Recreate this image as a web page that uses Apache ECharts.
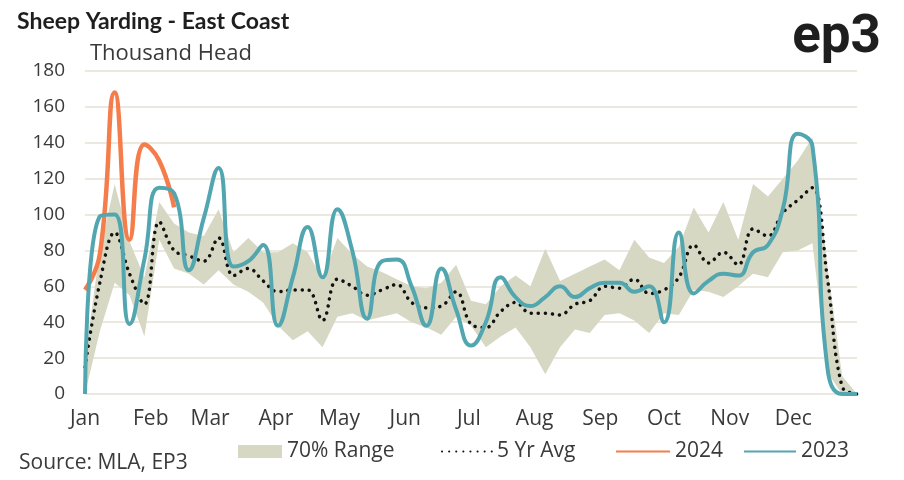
<!DOCTYPE html>
<html>
<head>
<meta charset="utf-8">
<script src="https://cdn.jsdelivr.net/npm/echarts@6/dist/echarts.min.js"></script>
<style>
html,body{margin:0;padding:0;background:#fff;}
#chart{width:904px;height:480px;}
</style>
</head>
<body>
<div id="chart"></div>
<script>
// ---- data ----
var weekNums = [1,2,3,4,5,6,7,8,9,10,11,12,13,14,15,16,17,18,19,20,21,22,23,24,25,26,27,28,29,30,31,32,33,34,35,36,37,38,39,40,41,42,43,44,45,46,47,48,49,50,51,52,53];
var monthLabels = ['Jan','Feb','Mar','Apr','May','Jun','Jul','Aug','Sep','Oct','Nov','Dec'];
var monthStartDays = [0,31,59,90,120,151,181,212,243,273,304,334];
var yTicks = [0,20,40,60,80,100,120,140,160,180];

var rangeLow = [0,35,62,55,32,86,70,67,61,69,61,57,51,38,30,35,26,43,45,41,43,45,40,37,33,43,38,26,32,37,26,11,26,36,34,44,45,41,34,45,44,58,57,54,60,67,65,79,80,84,12,0,0];
var rangeHigh = [20,80,117,85,65,107,95,90,88,103,79,87,79,79,84,79,64,87,78,71,68,64,60,59,62,72,52,50,60,66,60,81,63,67,71,75,69,86,76,73,82,104,90,107,86,117,110,120,130,143,72,10,0];
var avg5yr = [15,62,90,67,50,96,80,77,74,87,66,70,63,57,58,58,41,64,60,55,58,61,51,48,49,57,39,37,46,51,45,45,44,50,52,60,59,64,56,58,65,83,73,79,72,92,88,101,108,115,65,4,0];
var y2024 = [58,78,168,86,139,130,104];
var y2023 = [0,99,100,39,75,115,112,69,98,126,71,74,83,38,65,93,65,103,80,42,74,75,60,38,70,47,27,40,65,54,49,54,60,54,59,62,62,57,60,40,90,56,63,67,66,79,83,103,145,138,15,0,0];

// ---- build ----
var weekCats = weekNums.map(function(w){ return 'W' + w; });
var bandDiff = rangeHigh.map(function(h,i){ return h - rangeLow[i]; });
var lastDay = (weekNums[weekNums.length - 1] - 1) * 7;

var FONT = 'Open Sans';
var TEXT = '#3a3a3a';
var BAND = '#d7d8c3';
var TEAL = '#52a6b0';
var ORANGE = '#f47d4b';
var legendText = {fontFamily: FONT, fontSize: 21, color: TEXT};

var chart = echarts.init(document.getElementById('chart'), null, {renderer:'canvas'});
chart.setOption({
  animation: false,
  backgroundColor: '#fff',
  textStyle: {fontFamily: FONT},
  title: [
    {text: 'Sheep Yarding - East Coast', left: 12, top: 5,
     textStyle: {fontFamily: 'Lato', fontSize: 23, fontWeight: 'bold', color: '#1e1e1e'}},
    {text: 'Thousand Head', left: 85, top: 38,
     textStyle: {fontFamily: FONT, fontSize: 22, fontWeight: 'normal', color: TEXT}},
    {text: 'ep3', right: 18, top: 7,
     textStyle: {fontFamily: 'Roboto', fontSize: 53, fontWeight: 'bold', color: '#1e1e1e'}},
    {text: 'Source: MLA, EP3', left: 14, top: 448,
     textStyle: {fontFamily: FONT, fontSize: 21, fontWeight: 'normal', color: TEXT}}
  ],
  legend: [
    {left: 233, top: 436, itemWidth: 44, itemHeight: 13, icon: 'rect',
     data: [{name: '70% Range', itemStyle: {color: BAND}}], textStyle: legendText},
    {left: 436, top: 436, itemWidth: 50, itemHeight: 13, itemStyle: {opacity: 0},
     data: ['5 Yr Avg'], textStyle: legendText},
    {left: 610, top: 436, itemWidth: 54, itemHeight: 13, itemStyle: {opacity: 0},
     data: ['2024'], textStyle: legendText},
    {left: 738, top: 436, itemWidth: 52, itemHeight: 13, itemStyle: {opacity: 0},
     data: ['2023'], textStyle: legendText}
  ],
  grid: {left: 85, right: 47, top: 71, bottom: 86},
  xAxis: [
    {type: 'category', data: weekCats, boundaryGap: false, show: false},
    {type: 'value', min: 0, max: lastDay, position: 'bottom',
     axisLine: {show: false}, axisTick: {show: false}, splitLine: {show: false},
     axisLabel: {
       customValues: monthStartDays,
       formatter: function(v){ var k = monthStartDays.indexOf(v); return k >= 0 ? monthLabels[k] : ''; },
       fontFamily: FONT, fontSize: 21, color: TEXT, margin: 15
     }}
  ],
  yAxis: {
    type: 'value', min: 0, max: 180, interval: 20,
    axisLine: {show: false}, axisTick: {show: false},
    splitLine: {lineStyle: {color: '#ebe9df', width: 2}},
    axisLabel: {fontFamily: FONT, fontSize: 19, color: TEXT, margin: 20,
      formatter: function(v){ return yTicks.indexOf(v) >= 0 ? String(v) : ''; }}
  },
  series: [
    {name: 'rangeLow', type: 'line', stack: 'range', data: rangeLow, xAxisIndex: 0,
     symbol: 'none', lineStyle: {width: 0, opacity: 0}, silent: true, z: 1},
    {name: '70% Range', type: 'line', stack: 'range', data: bandDiff, xAxisIndex: 0,
     symbol: 'none', lineStyle: {width: 0, opacity: 0}, itemStyle: {color: BAND},
     areaStyle: {color: BAND, opacity: 1}, z: 1},
    {name: '5 Yr Avg', type: 'line', data: avg5yr, smooth: 0.4, xAxisIndex: 0,
     symbol: 'none', itemStyle: {color: '#111'},
     lineStyle: {color: '#111', width: 3.5, type: [0.1, 7], cap: 'round'}, z: 3},
    {name: '2024', type: 'line', data: y2024, smooth: 0.5, xAxisIndex: 0,
     symbol: 'none', itemStyle: {color: ORANGE},
     lineStyle: {color: ORANGE, width: 4.5}, z: 4},
    {name: '2023', type: 'line', data: y2023, smooth: 0.5, xAxisIndex: 0,
     symbol: 'none', itemStyle: {color: TEAL},
     lineStyle: {color: TEAL, width: 4}, z: 5}
  ]
});
</script>
</body>
</html>
